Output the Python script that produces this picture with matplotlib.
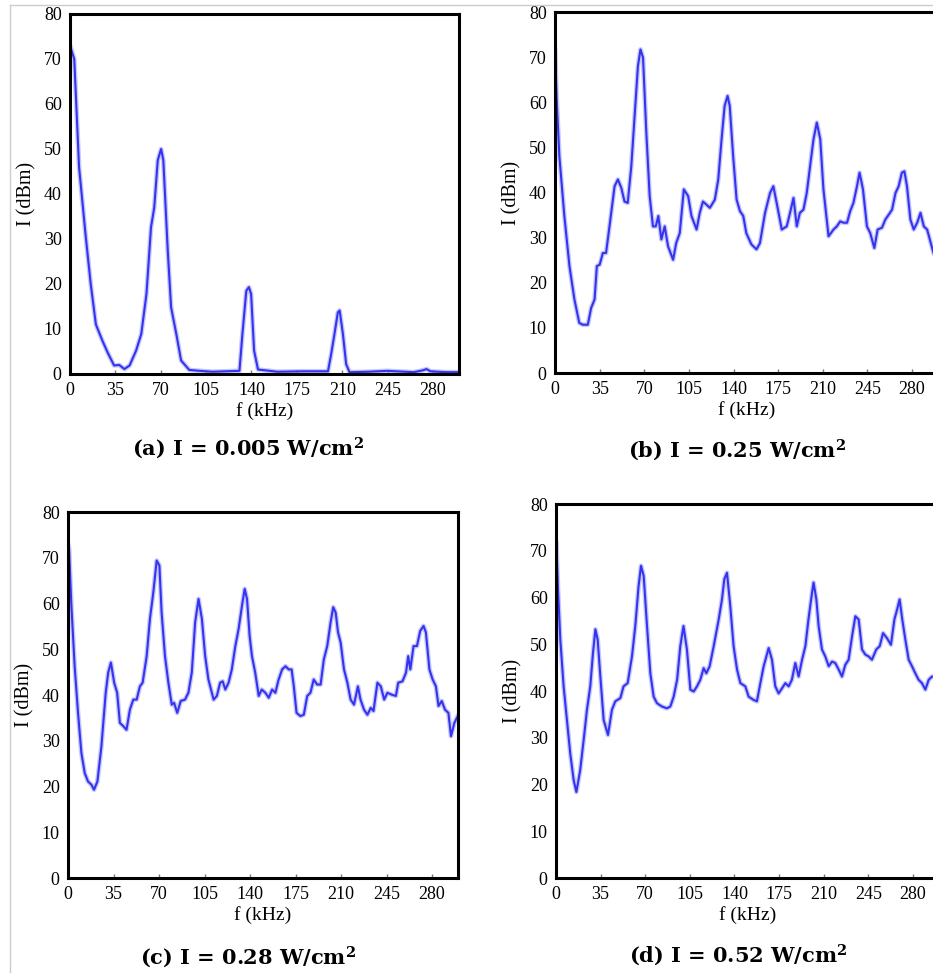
import numpy as np
import matplotlib.pyplot as plt
from matplotlib.lines import Line2D

plt.rcParams['font.family'] = ['Liberation Serif', 'DejaVu Serif']
plt.rcParams['mathtext.fontset'] = 'dejavuserif'

# (a) I = 0.005 W/cm2
fa = [0, 3.3, 7, 12, 16, 20, 25, 29, 34, 38, 42, 46, 51, 55, 59, 62.5, 65, 67.7, 70.3, 72,
      75.4, 78, 82, 85.7, 92, 100, 110, 120, 130.7, 133, 136, 138, 139.7, 142, 145, 160,
      180, 199, 201.5, 204, 206.6, 208, 210.5, 213, 215.6, 230, 245, 265, 272, 275, 278, 290, 300]
Ia = [73, 70, 46, 31, 20, 11, 7.4, 4.8, 1.9, 2, 1.1, 1.9, 5.2, 8.9, 17.8, 32.6, 37, 47.5, 50, 47.5,
      27.5, 14.8, 8.9, 3, 0.9, 0.7, 0.5, 0.6, 0.7, 8.9, 18.5, 19.3, 17.8, 5.2, 1, 0.5,
      0.6, 0.6, 4.5, 8.9, 13.7, 14.1, 8.9, 2.2, 0.4, 0.5, 0.7, 0.4, 0.8, 1.1, 0.6, 0.4, 0.4]

# (b) I = 0.25 W/cm2
fb = [0, 1.3, 3.4, 7.3, 11.3, 15.2, 19, 21.8, 25.7, 28.3, 31, 32.8, 35, 37.5, 40, 42.7, 46.7,
      49.3, 52, 54.5, 57, 59.8, 62.4, 65, 67, 69, 71.6, 74.2, 76.8, 79, 81, 83.4, 86, 88.6,
      92.6, 95, 97.8, 101, 104.4, 107, 111, 113.5, 116, 118.8, 121.4, 125.3, 128, 130.6, 133,
      135.3, 137, 139.7, 142.4, 145, 147.6, 150, 154, 158, 160.7, 164.7, 168.6, 171.2, 173.8,
      177.8, 181.7, 184.3, 187, 189.6, 192, 194.8, 197.4, 200, 202.7, 205.3, 208, 210.5,
      214.5, 218.4, 221, 223.6, 226.3, 229, 231.5, 234, 236.8, 238.8, 241.5, 244.6, 247.2,
      250.4, 253, 256.4, 259, 261.7, 264.3, 267, 269.5, 272, 274, 276, 278.7, 281.3, 284,
      286.6, 289.2, 291.8, 296.8, 300]
Ib = [71.7, 60.6, 48, 34.8, 23.7, 16.3, 11.1, 10.7, 10.7, 14.4, 16.3, 23.7, 24, 26.6, 26.6, 32.5,
      41.4, 42.9, 41, 38, 37.7, 45.8, 56.9, 68, 71.7, 69.9, 53.2, 39.2, 32.5, 32.5, 34.8, 29.6,
      32.5, 28.1, 25.1, 28.8, 31, 40.7, 39.2, 34.8, 31.8, 35.5, 38, 37.3, 36.6, 38.4, 42.9,
      51.8, 59.2, 61.4, 59.2, 48, 38.4, 35.9, 34.8, 31, 28.5, 27.4, 28.8, 35.5, 39.9, 41.4,
      37.7, 31.8, 32.5, 35.5, 38.8, 32.5, 35.5, 36.2, 39.9, 45.8, 51.8, 55.5, 51.8, 40.7,
      30.3, 31.8, 32.5, 33.6, 33.3, 33.3, 35.9, 37.7, 41.4, 44.4, 40.7, 32.5, 31, 27.7, 31.8,
      32.2, 34, 35.1, 36.2, 39.9, 41.4, 44.4, 44.7, 41.4, 34, 31.8, 33.3, 35.5, 32.5, 31.8,
      26.6, 25]

# (c) I = 0.28 W/cm2
fc = [0, 0.8, 2.6, 5.1, 7.7, 10.3, 12.9, 15.4, 18, 20, 22.6, 25.7, 29, 30.9, 33, 35.5, 37.8,
      39.9, 42.5, 45, 47.6, 50.2, 52.8, 55.3, 57.4, 60.5, 63, 65.6, 68.2, 70.3, 72, 74.6, 77.2,
      79.8, 81.6, 84, 86.7, 90, 92.6, 95.2, 97.8, 100.4, 103, 105.5, 108, 112, 114.5, 117, 119,
      121, 123.5, 126, 128.7, 131.2, 133.8, 135.9, 137.7, 139.7, 141.5, 144, 146.7, 149,
      151.8, 154.4, 157, 159.5, 162, 164.7, 167.3, 169.8, 172, 173.7, 175.8, 178.8, 181.4,
      184, 186.5, 189, 191.6, 194.3, 196.8, 199.4, 202, 204, 205.9, 207.7, 209.7, 212.3,
      214.9, 217.4, 220, 223, 225, 227.7, 230.3, 232.9, 235, 238, 240.6, 243.2, 245.7, 248.8,
      252.2, 254, 257.3, 260, 261.7, 263.3, 265.8, 268.4, 270.9, 273.5, 275.3, 278, 280.5,
      283, 285, 287.5, 290, 292.6, 294.6, 297.2, 299.8]
Ic = [73, 72, 59.5, 46.3, 36.1, 27.3, 22.9, 21.1, 20.4, 19.3, 21.1, 28.8, 40.5, 44.9, 47.1, 42.7,
      40.5, 33.9, 33.2, 32.4, 36.8, 39, 39, 41.9, 42.7, 48.5, 56.6, 62.4, 69.4, 68.3, 58, 48.5,
      42.7, 37.9, 38.3, 36.1, 38.7, 39, 40.5, 44.9, 55.9, 61, 56.6, 48.5, 43.4, 39, 39.8, 42.7,
      43, 41.2, 42.7, 45.6, 50.7, 54.4, 59.5, 63.2, 61, 52.9, 48.5, 44.9, 39.8, 41.2, 40.5,
      39.4, 41.2, 40.5, 43.4, 45.6, 46.3, 45.6, 45.6, 41.9, 36.1, 35.4, 35.7, 39.8, 40.5, 43.4,
      42.3, 42.3, 47.8, 50.7, 55.9, 59.2, 58, 53.7, 51.5, 45.6, 42.7, 39, 37.9, 41.9, 39, 36.8,
      35.7, 37.2, 36.5, 42.7, 41.9, 39, 40.5, 40.1, 39.8, 42.7, 43, 44.9, 48.5, 45.6, 50.7,
      50.7, 54, 55.1, 53.7, 45.6, 43.4, 41.9, 37.6, 38.7, 36.8, 36.1, 31, 33.9, 35.4]

# (d) I = 0.52 W/cm2
fd = [0, 0.3, 1.6, 3.4, 6, 8.6, 11.2, 13.9, 16, 19, 21.7, 24.3, 26.9, 29, 30.9, 32.7, 34.8, 37.4,
      40.8, 43.9, 46.5, 50.5, 53, 56.2, 59.6, 62.2, 64.8, 66.7, 68.8, 71.4, 74, 76.6, 79.2, 83,
      87, 89.7, 92.3, 95, 97.5, 100, 102.7, 105.4, 108, 110.6, 113.2, 115.8, 117.9, 120.5,
      123.7, 127.6, 130.2, 132, 134.1, 136.7, 139.3, 142, 144.6, 148.5, 151.1, 155, 157.6,
      160.3, 162.9, 166.8, 169.4, 172, 174.6, 177.3, 179.9, 182.5, 185, 187.7, 190.3, 193,
      195.6, 198, 200.8, 202, 204.2, 206, 208.6, 211.2, 213.9, 216.5, 219, 221.7, 224.3,
      226.9, 229.5, 232.2, 234.8, 237.4, 240, 242.6, 245.2, 247.8, 251.2, 253.9, 256.5,
      259.6, 262.7, 265.4, 267.5, 269.5, 271.6, 274, 276.6, 279.2, 281.8, 284.4, 287, 289.7,
      292.3, 294.9, 300]
Id = [72, 71.8, 61.7, 51, 41, 33.8, 26.6, 20.9, 18.4, 23.1, 29.5, 36, 41, 48.1, 53.2, 51, 43.1,
      33.8, 30.6, 36, 37.8, 38.5, 41, 41.7, 47.4, 53.9, 62.5, 66.8, 64.6, 53.9, 43.8, 38.8,
      37.4, 36.7, 36.3, 36.7, 38.8, 42.4, 49.6, 53.9, 48.9, 40.3, 39.9, 41, 42.4, 44.9, 43.8,
      45.3, 49.6, 55.3, 59.6, 63.9, 65.3, 58.2, 49.6, 44.6, 41.7, 41, 38.8, 38.1, 37.8, 41.7,
      45.3, 49.2, 46.7, 41, 39.5, 40.6, 41.7, 41, 42.4, 46, 43.1, 46.7, 49.6, 55.3, 61, 63.2,
      59.6, 53.9, 48.9, 47.4, 45.3, 46.3, 46, 44.6, 43.1, 45.6, 46.7, 51.7, 56, 55.3, 48.9,
      47.8, 47.4, 46.7, 48.9, 49.6, 52.4, 51.3, 49.9, 55.3, 57.4, 59.6, 55.3, 51, 46.7, 45.3,
      43.8, 42.4, 41.7, 40.3, 42.4, 43.1, 43]

labels = ['a', 'b', 'c', 'd']
intensity = ['0.005', '0.25', '0.28', '0.52']
xticks = [0, 35, 70, 105, 140, 175, 210, 245, 280]
yticks = [0, 10, 20, 30, 40, 50, 60, 70, 80]

fig = plt.figure(figsize=(9.33, 9.77), dpi=100)

# axes boxes in figure fractions; right column runs past the page edge
boxes = [[0.0750, 0.6172, 0.4169, 0.3685],
         [0.5949, 0.6182, 0.4100, 0.3695],
         [0.0729, 0.1013, 0.4180, 0.3746],
         [0.5959, 0.1013, 0.4100, 0.3828]]
title_pos = [(0.266, 0.541), (0.790, 0.539), (0.266, 0.020), (0.791, 0.022)]

data = [(fa, Ia), (fb, Ib), (fc, Ic), (fd, Id)]

for box, (f, I), lab, inten, tp in zip(boxes, data, labels, intensity, title_pos):
    ax = fig.add_axes(box)
    # soft halo under the trace, then the trace itself
    ax.plot(f, I, color='#9a9af8', lw=3.4, alpha=0.55, solid_joinstyle='round')
    ax.plot(f, I, color='#3434f0', lw=1.5, solid_joinstyle='round')
    ax.set_xlim(0, 300)
    ax.set_ylim(0, 80)
    ax.set_xticks(xticks)
    ax.set_yticks(yticks)
    ax.tick_params(axis='x', direction='in', length=3, width=1, color='#777777',
                   labelsize=13, pad=6)
    ax.tick_params(axis='y', length=0, labelsize=13, pad=6)
    for s in ax.spines.values():
        s.set_linewidth(2.2)
    ax.set_xlabel('f (kHz)', fontsize=14, labelpad=2)
    ax.set_ylabel('I (dBm)', fontsize=14.5, labelpad=5)
    title = '(%s) I = %s W/cm$^\\mathbf{2}$' % (lab, inten)
    fig.text(tp[0], tp[1], title, ha='center', va='center', fontsize=15,
             fontweight='bold', family='DejaVu Serif')

# thin page border
fig.add_artist(Line2D([10 / 933, 1], [1 - 5 / 977, 1 - 5 / 977], color='#cccccc', lw=1))
fig.add_artist(Line2D([10 / 933, 10 / 933], [1 - 5 / 977, 1 - 972 / 977], color='#cccccc', lw=1))

fig.savefig('out.png', dpi=100)
